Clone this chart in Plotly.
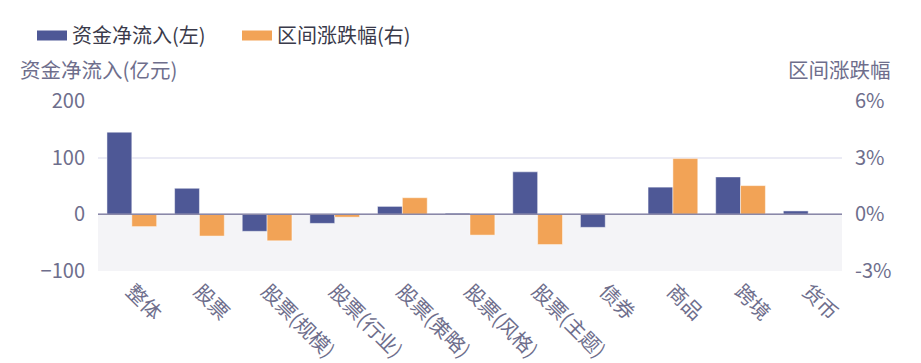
import plotly.graph_objects as go

categories = ["整体", "股票", "股票(规模)", "股票(行业)", "股票(策略)", "股票(风格)",
              "股票(主题)", "债券", "商品", "跨境", "货币"]
net_inflow = [145, 46, -30, -16, 14, 2, 75, -23, 48, 66, 6]          # 亿元
range_change = [-0.65, -1.15, -1.4, -0.15, 0.88, -1.1, -1.6, 0.0, 2.95, 1.52, 0.0]  # %

left_ticks = [-100, 0, 100, 200]
right_ticks = [-3, 0, 3, 6]
right_tick_labels = ["-3%", "0%", "3%", "6%"]

BLUE = "#4e5896"
ORANGE = "#f2a356"
TEXT = "#6e6e8c"
FONT = "Noto Sans CJK SC"

fig = go.Figure()
fig.add_trace(go.Bar(x=categories, y=net_inflow, name="资金净流入(左)", marker=dict(color=BLUE,
                     line=dict(width=0.8, color="rgba(255,255,255,0.6)")),
                     offsetgroup="a", yaxis="y", showlegend=False))
fig.add_trace(go.Bar(x=categories, y=range_change, name="区间涨跌幅(右)", marker=dict(color=ORANGE,
                     line=dict(width=0.8, color="rgba(255,255,255,0.6)")),
                     offsetgroup="b", yaxis="y2", showlegend=False))
# legend entries
fig.add_trace(go.Scatter(x=[None], y=[None], mode="lines", name="资金净流入(左)",
                         line=dict(color=BLUE, width=10)))
fig.add_trace(go.Scatter(x=[None], y=[None], mode="lines", name="区间涨跌幅(右)",
                         line=dict(color=ORANGE, width=10)))

fig.add_shape(type="rect", xref="paper", yref="y", x0=0, x1=1, y0=-100, y1=0,
              fillcolor="#f4f4f7", line=dict(width=0), layer="below")
fig.add_shape(type="line", xref="paper", yref="y", x0=0, x1=1, y0=0, y1=0,
              line=dict(color="#8a88a8", width=1.5), layer="above")

fig.update_layout(
    width=921, height=363,
    margin=dict(l=98, r=79, t=101, b=92, autoexpand=False),
    paper_bgcolor="white", plot_bgcolor="white",
    font=dict(family=FONT, size=20, color=TEXT),
    barmode="group", bargap=0.265, bargroupgap=0,
    showlegend=True,
    legend=dict(orientation="h", x=32 / 921, y=1 - 16 / 363, xref="container", yref="container",
                xanchor="left", yanchor="top", font=dict(size=20, color="#3a3a4a"),
                itemwidth=30, traceorder="normal", tracegroupgap=0,
                entrywidth=160, entrywidthmode="pixels",
                bgcolor="rgba(0,0,0,0)"),
    xaxis=dict(tickangle=45, showgrid=False, zeroline=False, showline=False,
               ticks="", tickfont=dict(size=20, color=TEXT), fixedrange=True,
               ticklabelstandoff=4, automargin=False),
    yaxis=dict(range=[-100, 200], tickvals=left_ticks, showgrid=True, gridcolor="#ebebf5",
               gridwidth=1.5, zeroline=False, showline=False, ticks="",
               tickfont=dict(size=20, color=TEXT), ticklabelstandoff=12, automargin=False),
    yaxis2=dict(range=[-3, 6], tickvals=right_ticks, ticktext=right_tick_labels,
                overlaying="y", side="right", showgrid=False, zeroline=False,
                showline=False, ticks="", tickfont=dict(size=20, color=TEXT),
                ticklabelstandoff=12, automargin=False),
)

fig.add_annotation(text="资金净流入(亿元)", xref="paper", yref="paper", x=-0.108, y=1.0,
                   xanchor="left", yanchor="bottom", yshift=15, showarrow=False,
                   font=dict(size=20.5, color=TEXT))
fig.add_annotation(text="区间涨跌幅", xref="paper", yref="paper", x=1.068, y=1.0,
                   xanchor="right", yanchor="bottom", yshift=15, showarrow=False,
                   font=dict(size=20.5, color=TEXT))

fig.write_html("out.html")
